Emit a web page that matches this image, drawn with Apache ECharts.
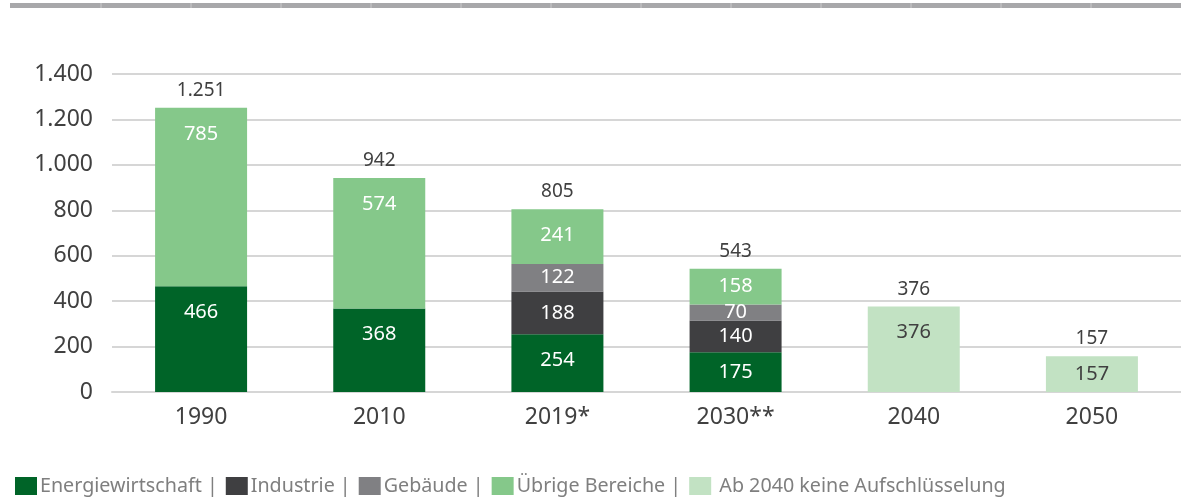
<!DOCTYPE html>
<html lang="de">
<head>
<meta charset="utf-8">
<script src="https://cdn.jsdelivr.net/npm/echarts@6/dist/echarts.min.js"></script>
<style>
  html, body { margin: 0; padding: 0; background: #fff; }
  #chart { width: 1181px; height: 501px; }
</style>
</head>
<body>
<div id="chart"></div>
<script>
// ---- Daten (Mio. t CO2-Äq.) ----
const years = ['1990', '2010', '2019*', '2030**', '2040', '2050'];
const energie = [466, 368, 254, 175, null, null];
const industrie = [null, null, 188, 140, null, null];
const gebaeude = [null, null, 122, 70, null, null];
const uebrige = [785, 574, 241, 158, null, null];
const ab2040 = [null, null, null, null, 376, 157];
const totals = [1251, 942, 805, 543, 376, 157];

const FONT = '"Noto Sans", "Open Sans", sans-serif';
const de = (v) => Number(v).toLocaleString('de-DE');

// hohe Segmente: Label oben innen, kleine: mittig
function items(arr, color) {
  return arr.map((v) => {
    if (v == null) return null;
    return {
      value: v,
      label: v >= 200
        ? { position: 'insideTop', distance: 16, color }
        : { position: 'inside', color },
    };
  });
}

function stackSeries(name, arr, color, labelColor) {
  return {
    name, type: 'bar', stack: 'sum', barWidth: 92,
    itemStyle: { color },
    label: { show: true, fontFamily: FONT, fontSize: 20, formatter: (p) => de(p.value) },
    data: items(arr, labelColor),
  };
}

const names = ['Energiewirtschaft', 'Industrie', 'Gebäude', 'Übrige Bereiche', 'Ab 2040 keine Aufschlüsselung'];

// obere graue Leiste mit feinen Trennstrichen
const topBar = [{ type: 'rect', shape: { x: 10, y: 3, width: 1171, height: 5 }, style: { fill: '#a8a8aa' } }];
for (let x = 101; x < 1181; x += 90) {
  topBar.push({ type: 'line', shape: { x1: x, y1: 3, x2: x, y2: 8 }, style: { stroke: '#c9c9cb', lineWidth: 1 } });
}

const chart = echarts.init(document.getElementById('chart'));
chart.setOption({
  animation: false,
  textStyle: { fontFamily: FONT },
  graphic: topBar,
  grid: { left: 112, right: -1, top: 74, bottom: 109, containLabel: false },
  legend: {
    data: names,
    left: 10, bottom: 0,
    icon: 'rect', itemWidth: 22, itemHeight: 18, itemGap: 8,
    textStyle: { color: '#7f7f7f', fontSize: 19.7, fontFamily: FONT, padding: [0, 0, 0, -2] },
    formatter: (n) => (n === names[names.length - 1] ? ' ' + n : n + ' |'),
    selectedMode: false,
  },
  xAxis: {
    type: 'category', data: years,
    axisLine: { show: true, lineStyle: { color: '#d6d6d6', width: 2 } },
    axisTick: { show: false },
    axisLabel: { color: '#404040', fontSize: 23, margin: 14 },
  },
  yAxis: {
    type: 'value', min: 0, max: 1400, interval: 200,
    axisLine: { show: false }, axisTick: { show: false },
    axisLabel: { color: '#404040', fontSize: 23, margin: 19, formatter: de },
    splitLine: { lineStyle: { color: '#d6d6d6', width: 2 } },
  },
  series: [
    stackSeries(names[0], energie, '#006428', '#ffffff'),
    stackSeries(names[1], industrie, '#3f3f41', '#ffffff'),
    stackSeries(names[2], gebaeude, '#808083', '#ffffff'),
    stackSeries(names[3], uebrige, '#85c88a', '#ffffff'),
    stackSeries(names[4], ab2040, '#c2e2c3', '#404040'),
    {
      name: 'Summe', type: 'bar', barWidth: 92, barGap: '-100%', z: 1,
      itemStyle: { color: 'rgba(0,0,0,0)' },
      label: { show: true, position: 'top', distance: 8, color: '#404040', fontSize: 19, fontFamily: FONT, formatter: (p) => de(p.value) },
      data: totals,
    },
  ],
});
</script>
</body>
</html>
